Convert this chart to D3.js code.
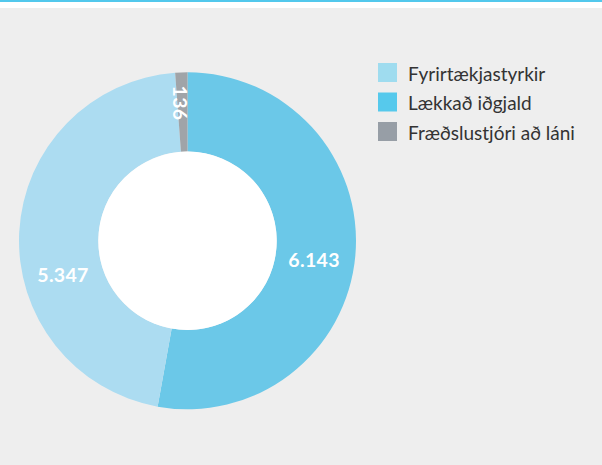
<!DOCTYPE html>
<html><head><meta charset="utf-8">
<script src="https://cdn.jsdelivr.net/npm/d3@7"></script>
<style>
html,body{margin:0;padding:0;background:#fff;}
svg{display:block;}
</style></head>
<body>
<script>
const categories = ["Fyrirtækjastyrkir", "Lækkað iðgjald", "Fræðslustjóri að láni"];
const values = [5347, 6143, 136];
const valueLabels = ["5.347", "6.143", "136"];
const swatchColors = ["#9fdcef", "#56c9ec", "#979ea6"];
const sliceColors = ["#acdcf1", "#6bc8e8", "#a0a4a8"];
const drawOrder = [1, 0, 2]; // clockwise from 12 o'clock

const W = 602, H = 465;
const svg = d3.select("body").append("svg").attr("width", W).attr("height", H);

// background
svg.append("rect").attr("x",0).attr("y",0).attr("width",W).attr("height",H).attr("fill","#ffffff");
svg.append("rect").attr("x",0).attr("y",8).attr("width",W).attr("height",H-8).attr("fill","#eeeeee");
svg.append("rect").attr("x",0).attr("y",0).attr("width",W).attr("height",2).attr("fill","#52c8ec");

const cx = 187.5, cy = 240.8, rOuter = 168.5, rInner = 89.2;
const g = svg.append("g").attr("transform", `translate(${cx},${cy})`);

const pieData = drawOrder.map(i => ({i, v: values[i]}));
const pie = d3.pie().sort(null).value(d => d.v).startAngle(0).endAngle(2*Math.PI);
const arcs = pie(pieData);
const arc = d3.arc().innerRadius(rInner).outerRadius(rOuter);

g.selectAll("path.slice").data(arcs).join("path")
  .attr("class","slice")
  .attr("d", arc)
  .attr("fill", d => sliceColors[d.data.i]);

g.append("circle").attr("r", rInner).attr("fill", "#ffffff");

// labels (angle shift in degrees & radius per category index, styling only)
const labelShift = {0: -18.2, 1: 3.5, 2: -1.0};
const labelRadius = {0: 129, 1: 128, 2: 138};
const labelRotate = {0: 0, 1: 0, 2: 90};
arcs.forEach(d => {
  const i = d.data.i;
  const a = (d.startAngle + d.endAngle)/2 + labelShift[i]*Math.PI/180;
  const r = labelRadius[i];
  const lx = Math.sin(a)*r, ly = -Math.cos(a)*r;
  g.append("text")
    .attr("transform", `translate(${lx},${ly}) rotate(${labelRotate[i]})`)
    .attr("text-anchor","middle")
    .attr("dy","0.36em")
    .attr("fill","#ffffff")
    .attr("font-family","Lato, 'Open Sans', sans-serif")
    .attr("font-weight","bold")
    .attr("font-size","19.5px")
    .attr("letter-spacing","0.3px")
    .text(valueLabels[i]);
});

// legend
const lg = svg.append("g").attr("transform","translate(378,63)");
categories.forEach((c, k) => {
  const row = lg.append("g").attr("transform", `translate(0,${k*29.5})`);
  row.append("rect").attr("width",19).attr("height",19).attr("fill", swatchColors[k]);
  row.append("text").attr("x",30).attr("y",17.5)
    .attr("fill","#333333")
    .attr("font-family","Lato, 'Open Sans', sans-serif")
    .attr("font-size","19px")
    .text(c);
});
</script>
</body></html>
